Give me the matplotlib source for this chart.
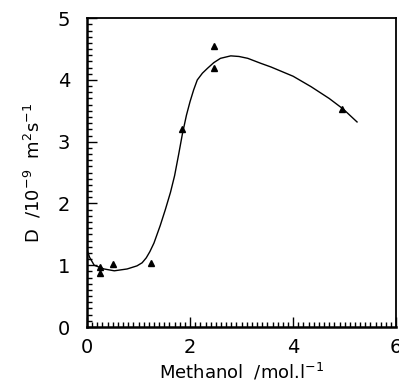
import matplotlib
matplotlib.use("Agg")
from matplotlib import pyplot as plt
from matplotlib.ticker import MultipleLocator

# measured points
meth = [0.25, 0.25, 0.5, 1.25, 1.84, 2.47, 2.47, 4.95]
diff = [0.97, 0.88, 1.02, 1.04, 3.2, 4.55, 4.19, 3.53]

# fitted curve
curve_x = [0, 0.05, 0.14, 0.33, 0.53, 0.78, 0.97, 1.07, 1.15, 1.22, 1.3, 1.42, 1.52, 1.62,
           1.7, 1.78, 1.85, 1.93, 2.0, 2.07, 2.14, 2.24, 2.34, 2.46, 2.59, 2.79, 2.95, 3.12,
           3.37, 3.57, 4.0, 4.35, 4.7, 4.97, 5.24]
curve_y = [1.25, 1.13, 1.0, 0.94, 0.91, 0.94, 0.99, 1.04, 1.12, 1.22, 1.36, 1.64, 1.9, 2.18,
           2.45, 2.8, 3.12, 3.43, 3.65, 3.84, 4.0, 4.11, 4.19, 4.28, 4.35, 4.39, 4.38, 4.35,
           4.27, 4.21, 4.06, 3.89, 3.7, 3.53, 3.32]

fig = plt.figure(figsize=(3.99, 3.87), dpi=100)
ax = fig.add_axes([0.218, 0.155, 0.775, 0.798])

ax.plot(curve_x, curve_y, color="black", linewidth=1)
ax.plot(meth, diff, linestyle="none", marker="^", color="black", markersize=5)

ax.set_xlim(0, 6)
ax.set_ylim(0, 5)
ax.xaxis.set_major_locator(MultipleLocator(2))
ax.xaxis.set_minor_locator(MultipleLocator(0.1))
ax.yaxis.set_major_locator(MultipleLocator(1))
ax.yaxis.set_minor_locator(MultipleLocator(0.1))
ax.tick_params(which="both", direction="in", top=False, right=False, labelsize=14, width=1)
ax.tick_params(which="major", length=7)
ax.tick_params(axis="y", which="major", pad=12)
ax.tick_params(axis="x", which="major", pad=8)
ax.tick_params(which="minor", length=3.5)
for s in ["left", "bottom"]:
    ax.spines[s].set_linewidth(1.8)
for s in ["top", "right"]:
    ax.spines[s].set_linewidth(1.3)

ax.set_xlabel(r"Methanol  /mol.l$^{-1}$", fontsize=13, labelpad=3)
ax.set_ylabel(r"D  /10$^{-9}$  m$^{2}$s$^{-1}$", fontsize=13, labelpad=10)

plt.savefig("out.png", dpi=100)
